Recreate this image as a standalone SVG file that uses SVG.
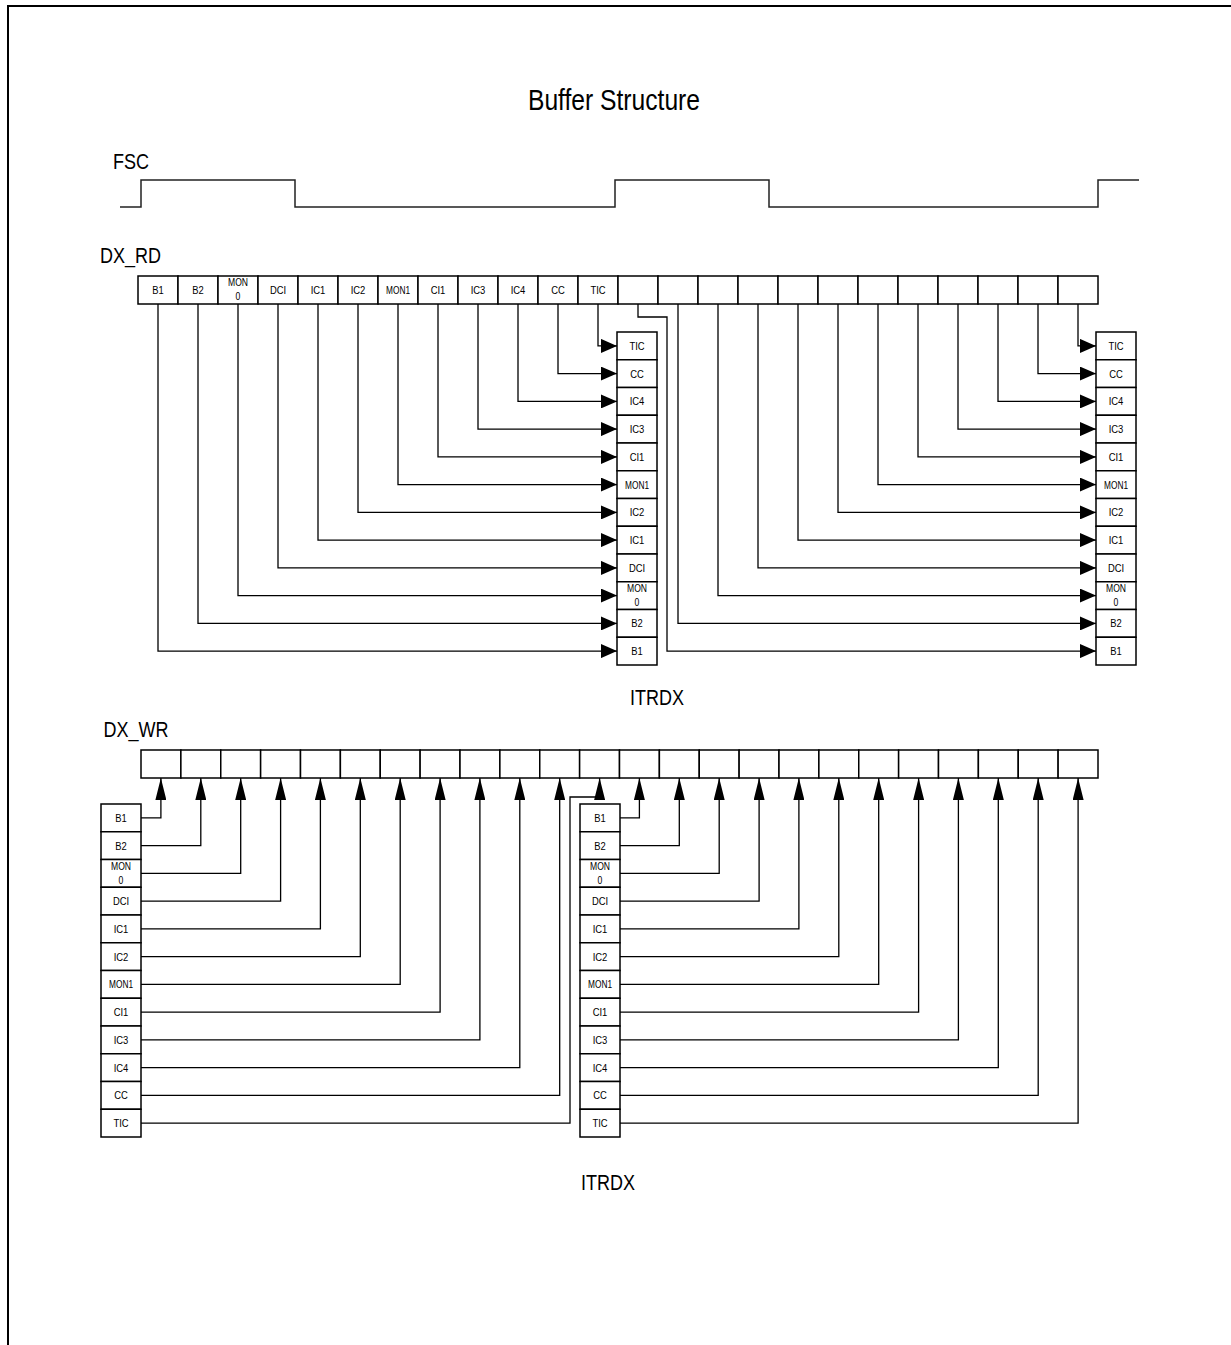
<svg xmlns="http://www.w3.org/2000/svg" width="1231" height="1345" viewBox="0 0 1231 1345">
<defs>
<style>
.t{font-family:"Liberation Sans",Arial,sans-serif;fill:#000}
.big{font-size:22px}
.title{font-size:30px}
.lb{font-size:11.5px;text-anchor:middle}
.sm{font-size:10.5px;text-anchor:middle}
.box{fill:#fff;stroke:#000;stroke-width:1.5}
.cn{fill:none;stroke:#000;stroke-width:1.3}
.ar{marker-end:url(#ah)}
.au{marker-end:url(#ahu)}
</style>
<marker id="ah" markerUnits="userSpaceOnUse" markerWidth="16" markerHeight="14" viewBox="0 0 16 14" refX="16" refY="7" orient="auto"><path d="M0,0 L16,7 L0,14 z" fill="#000"/></marker>
<marker id="ahu" markerUnits="userSpaceOnUse" markerWidth="22" markerHeight="11" viewBox="0 0 22 11" refX="22" refY="5.5" orient="auto"><path d="M0,0 L22,5.5 L0,11 z" fill="#000"/></marker>
</defs>
<rect x="0" y="0" width="1231" height="1345" fill="#fff"/>
<path d="M8,1345 V6 H1231" fill="none" stroke="#000" stroke-width="2"/>
<text class="t title" x="614" y="110" text-anchor="middle" textLength="172" lengthAdjust="spacingAndGlyphs">Buffer Structure</text>
<g id="fsc">
<text class="t big" x="113" y="169" textLength="36" lengthAdjust="spacingAndGlyphs">FSC</text>
<path d="M120,207 H141 V180 H295 V207 H615 V180 H769 V207 H1098 V180 H1139" fill="none" stroke="#222" stroke-width="1.5"/>
</g>
<text class="t big" x="100" y="263" textLength="61" lengthAdjust="spacingAndGlyphs">DX_RD</text>
<text class="t big" x="103.5" y="737" textLength="65" lengthAdjust="spacingAndGlyphs">DX_WR</text>
<text class="t big" x="657" y="705" text-anchor="middle" textLength="54" lengthAdjust="spacingAndGlyphs">ITRDX</text>
<text class="t big" x="608" y="1190" text-anchor="middle" textLength="54" lengthAdjust="spacingAndGlyphs">ITRDX</text>

<g id="connectors">
<path class="cn ar" d="M158,304 V651.1 H617"/>
<path class="cn ar" d="M198,304 V623.4 H617"/>
<path class="cn ar" d="M238,304 V595.6 H617"/>
<path class="cn ar" d="M278,304 V567.9 H617"/>
<path class="cn ar" d="M318,304 V540.1 H617"/>
<path class="cn ar" d="M358,304 V512.4 H617"/>
<path class="cn ar" d="M398,304 V484.6 H617"/>
<path class="cn ar" d="M438,304 V456.9 H617"/>
<path class="cn ar" d="M478,304 V429.1 H617"/>
<path class="cn ar" d="M518,304 V401.4 H617"/>
<path class="cn ar" d="M558,304 V373.6 H617"/>
<path class="cn ar" d="M598,304 V345.9 H617"/>
<path class="cn ar" d="M638,304 V317 H667 V651.1 H1096"/>
<path class="cn ar" d="M678,304 V623.4 H1096"/>
<path class="cn ar" d="M718,304 V595.6 H1096"/>
<path class="cn ar" d="M758,304 V567.9 H1096"/>
<path class="cn ar" d="M798,304 V540.1 H1096"/>
<path class="cn ar" d="M838,304 V512.4 H1096"/>
<path class="cn ar" d="M878,304 V484.6 H1096"/>
<path class="cn ar" d="M918,304 V456.9 H1096"/>
<path class="cn ar" d="M958,304 V429.1 H1096"/>
<path class="cn ar" d="M998,304 V401.4 H1096"/>
<path class="cn ar" d="M1038,304 V373.6 H1096"/>
<path class="cn ar" d="M1078,304 V345.9 H1096"/>

<path class="cn au" d="M141,817.9 H160.9 V778"/>
<path class="cn au" d="M141,845.6 H200.8 V778"/>
<path class="cn au" d="M141,873.4 H240.7 V778"/>
<path class="cn au" d="M141,901.1 H280.6 V778"/>
<path class="cn au" d="M141,928.9 H320.4 V778"/>
<path class="cn au" d="M141,956.6 H360.3 V778"/>
<path class="cn au" d="M141,984.4 H400.2 V778"/>
<path class="cn au" d="M141,1012.1 H440.1 V778"/>
<path class="cn au" d="M141,1039.9 H479.9 V778"/>
<path class="cn au" d="M141,1067.6 H519.8 V778"/>
<path class="cn au" d="M141,1095.4 H559.7 V778"/>
<path class="cn au" d="M141,1123.1 H570 V797 H599.6 V778"/>
<path class="cn au" d="M620,817.9 H639.4 V778"/>
<path class="cn au" d="M620,845.6 H679.3 V778"/>
<path class="cn au" d="M620,873.4 H719.2 V778"/>
<path class="cn au" d="M620,901.1 H759.1 V778"/>
<path class="cn au" d="M620,928.9 H798.9 V778"/>
<path class="cn au" d="M620,956.6 H838.8 V778"/>
<path class="cn au" d="M620,984.4 H878.7 V778"/>
<path class="cn au" d="M620,1012.1 H918.6 V778"/>
<path class="cn au" d="M620,1039.9 H958.4 V778"/>
<path class="cn au" d="M620,1067.6 H998.3 V778"/>
<path class="cn au" d="M620,1095.4 H1038.2 V778"/>
<path class="cn au" d="M620,1123.1 H1078.1 V778"/>
</g>

<g id="dx-rd-buffer">
<rect class="box" x="138" y="276" width="40" height="28"/>
<rect class="box" x="178" y="276" width="40" height="28"/>
<rect class="box" x="218" y="276" width="40" height="28"/>
<rect class="box" x="258" y="276" width="40" height="28"/>
<rect class="box" x="298" y="276" width="40" height="28"/>
<rect class="box" x="338" y="276" width="40" height="28"/>
<rect class="box" x="378" y="276" width="40" height="28"/>
<rect class="box" x="418" y="276" width="40" height="28"/>
<rect class="box" x="458" y="276" width="40" height="28"/>
<rect class="box" x="498" y="276" width="40" height="28"/>
<rect class="box" x="538" y="276" width="40" height="28"/>
<rect class="box" x="578" y="276" width="40" height="28"/>
<rect class="box" x="618" y="276" width="40" height="28"/>
<rect class="box" x="658" y="276" width="40" height="28"/>
<rect class="box" x="698" y="276" width="40" height="28"/>
<rect class="box" x="738" y="276" width="40" height="28"/>
<rect class="box" x="778" y="276" width="40" height="28"/>
<rect class="box" x="818" y="276" width="40" height="28"/>
<rect class="box" x="858" y="276" width="40" height="28"/>
<rect class="box" x="898" y="276" width="40" height="28"/>
<rect class="box" x="938" y="276" width="40" height="28"/>
<rect class="box" x="978" y="276" width="40" height="28"/>
<rect class="box" x="1018" y="276" width="40" height="28"/>
<rect class="box" x="1058" y="276" width="40" height="28"/>
<text class="t lb" x="158" y="294" textLength="11.5" lengthAdjust="spacingAndGlyphs">B1</text>
<text class="t lb" x="198" y="294" textLength="11.5" lengthAdjust="spacingAndGlyphs">B2</text>
<text class="t sm" x="238" y="286" textLength="20" lengthAdjust="spacingAndGlyphs">MON</text>
<text class="t sm" x="238" y="300" textLength="4.8" lengthAdjust="spacingAndGlyphs">0</text>
<text class="t lb" x="278" y="294" textLength="16.2" lengthAdjust="spacingAndGlyphs">DCI</text>
<text class="t lb" x="318" y="294" textLength="14.7" lengthAdjust="spacingAndGlyphs">IC1</text>
<text class="t lb" x="358" y="294" textLength="14.7" lengthAdjust="spacingAndGlyphs">IC2</text>
<text class="t sm" x="398" y="294" textLength="24" lengthAdjust="spacingAndGlyphs">MON1</text>
<text class="t lb" x="438" y="294" textLength="14.7" lengthAdjust="spacingAndGlyphs">CI1</text>
<text class="t lb" x="478" y="294" textLength="14.7" lengthAdjust="spacingAndGlyphs">IC3</text>
<text class="t lb" x="518" y="294" textLength="14.7" lengthAdjust="spacingAndGlyphs">IC4</text>
<text class="t lb" x="558" y="294" textLength="13.6" lengthAdjust="spacingAndGlyphs">CC</text>
<text class="t lb" x="598" y="294" textLength="15.2" lengthAdjust="spacingAndGlyphs">TIC</text>
</g>

<g id="itrdx-rd-left">
<rect class="box" x="617" y="332" width="40" height="27.75"/>
<rect class="box" x="617" y="359.75" width="40" height="27.75"/>
<rect class="box" x="617" y="387.5" width="40" height="27.75"/>
<rect class="box" x="617" y="415.25" width="40" height="27.75"/>
<rect class="box" x="617" y="443" width="40" height="27.75"/>
<rect class="box" x="617" y="470.75" width="40" height="27.75"/>
<rect class="box" x="617" y="498.5" width="40" height="27.75"/>
<rect class="box" x="617" y="526.25" width="40" height="27.75"/>
<rect class="box" x="617" y="554" width="40" height="27.75"/>
<rect class="box" x="617" y="581.75" width="40" height="27.75"/>
<rect class="box" x="617" y="609.5" width="40" height="27.75"/>
<rect class="box" x="617" y="637.25" width="40" height="27.75"/>
<text class="t lb" x="637" y="349.9" textLength="15.2" lengthAdjust="spacingAndGlyphs">TIC</text>
<text class="t lb" x="637" y="377.6" textLength="13.6" lengthAdjust="spacingAndGlyphs">CC</text>
<text class="t lb" x="637" y="405.4" textLength="14.7" lengthAdjust="spacingAndGlyphs">IC4</text>
<text class="t lb" x="637" y="433.1" textLength="14.7" lengthAdjust="spacingAndGlyphs">IC3</text>
<text class="t lb" x="637" y="460.9" textLength="14.7" lengthAdjust="spacingAndGlyphs">CI1</text>
<text class="t sm" x="637" y="488.6" textLength="24" lengthAdjust="spacingAndGlyphs">MON1</text>
<text class="t lb" x="637" y="516.4" textLength="14.7" lengthAdjust="spacingAndGlyphs">IC2</text>
<text class="t lb" x="637" y="544.1" textLength="14.7" lengthAdjust="spacingAndGlyphs">IC1</text>
<text class="t lb" x="637" y="571.9" textLength="16.2" lengthAdjust="spacingAndGlyphs">DCI</text>
<text class="t sm" x="637" y="591.75" textLength="20" lengthAdjust="spacingAndGlyphs">MON</text>
<text class="t sm" x="637" y="605.75" textLength="4.8" lengthAdjust="spacingAndGlyphs">0</text>
<text class="t lb" x="637" y="627.4" textLength="11.5" lengthAdjust="spacingAndGlyphs">B2</text>
<text class="t lb" x="637" y="655.1" textLength="11.5" lengthAdjust="spacingAndGlyphs">B1</text>
</g>

<g id="itrdx-rd-right">
<rect class="box" x="1096" y="332" width="40" height="27.75"/>
<rect class="box" x="1096" y="359.75" width="40" height="27.75"/>
<rect class="box" x="1096" y="387.5" width="40" height="27.75"/>
<rect class="box" x="1096" y="415.25" width="40" height="27.75"/>
<rect class="box" x="1096" y="443" width="40" height="27.75"/>
<rect class="box" x="1096" y="470.75" width="40" height="27.75"/>
<rect class="box" x="1096" y="498.5" width="40" height="27.75"/>
<rect class="box" x="1096" y="526.25" width="40" height="27.75"/>
<rect class="box" x="1096" y="554" width="40" height="27.75"/>
<rect class="box" x="1096" y="581.75" width="40" height="27.75"/>
<rect class="box" x="1096" y="609.5" width="40" height="27.75"/>
<rect class="box" x="1096" y="637.25" width="40" height="27.75"/>
<text class="t lb" x="1116" y="349.9" textLength="15.2" lengthAdjust="spacingAndGlyphs">TIC</text>
<text class="t lb" x="1116" y="377.6" textLength="13.6" lengthAdjust="spacingAndGlyphs">CC</text>
<text class="t lb" x="1116" y="405.4" textLength="14.7" lengthAdjust="spacingAndGlyphs">IC4</text>
<text class="t lb" x="1116" y="433.1" textLength="14.7" lengthAdjust="spacingAndGlyphs">IC3</text>
<text class="t lb" x="1116" y="460.9" textLength="14.7" lengthAdjust="spacingAndGlyphs">CI1</text>
<text class="t sm" x="1116" y="488.6" textLength="24" lengthAdjust="spacingAndGlyphs">MON1</text>
<text class="t lb" x="1116" y="516.4" textLength="14.7" lengthAdjust="spacingAndGlyphs">IC2</text>
<text class="t lb" x="1116" y="544.1" textLength="14.7" lengthAdjust="spacingAndGlyphs">IC1</text>
<text class="t lb" x="1116" y="571.9" textLength="16.2" lengthAdjust="spacingAndGlyphs">DCI</text>
<text class="t sm" x="1116" y="591.75" textLength="20" lengthAdjust="spacingAndGlyphs">MON</text>
<text class="t sm" x="1116" y="605.75" textLength="4.8" lengthAdjust="spacingAndGlyphs">0</text>
<text class="t lb" x="1116" y="627.4" textLength="11.5" lengthAdjust="spacingAndGlyphs">B2</text>
<text class="t lb" x="1116" y="655.1" textLength="11.5" lengthAdjust="spacingAndGlyphs">B1</text>
</g>

<g id="dx-wr-buffer">
<rect class="box" x="141" y="750" width="39.875" height="28"/>
<rect class="box" x="180.875" y="750" width="39.875" height="28"/>
<rect class="box" x="220.75" y="750" width="39.875" height="28"/>
<rect class="box" x="260.625" y="750" width="39.875" height="28"/>
<rect class="box" x="300.5" y="750" width="39.875" height="28"/>
<rect class="box" x="340.375" y="750" width="39.875" height="28"/>
<rect class="box" x="380.25" y="750" width="39.875" height="28"/>
<rect class="box" x="420.125" y="750" width="39.875" height="28"/>
<rect class="box" x="460" y="750" width="39.875" height="28"/>
<rect class="box" x="499.875" y="750" width="39.875" height="28"/>
<rect class="box" x="539.75" y="750" width="39.875" height="28"/>
<rect class="box" x="579.625" y="750" width="39.875" height="28"/>
<rect class="box" x="619.5" y="750" width="39.875" height="28"/>
<rect class="box" x="659.375" y="750" width="39.875" height="28"/>
<rect class="box" x="699.25" y="750" width="39.875" height="28"/>
<rect class="box" x="739.125" y="750" width="39.875" height="28"/>
<rect class="box" x="779" y="750" width="39.875" height="28"/>
<rect class="box" x="818.875" y="750" width="39.875" height="28"/>
<rect class="box" x="858.75" y="750" width="39.875" height="28"/>
<rect class="box" x="898.625" y="750" width="39.875" height="28"/>
<rect class="box" x="938.5" y="750" width="39.875" height="28"/>
<rect class="box" x="978.375" y="750" width="39.875" height="28"/>
<rect class="box" x="1018.25" y="750" width="39.875" height="28"/>
<rect class="box" x="1058.125" y="750" width="39.875" height="28"/>
</g>

<g id="itrdx-wr-left">
<rect class="box" x="101" y="804" width="40" height="27.75"/>
<rect class="box" x="101" y="831.75" width="40" height="27.75"/>
<rect class="box" x="101" y="859.5" width="40" height="27.75"/>
<rect class="box" x="101" y="887.25" width="40" height="27.75"/>
<rect class="box" x="101" y="915" width="40" height="27.75"/>
<rect class="box" x="101" y="942.75" width="40" height="27.75"/>
<rect class="box" x="101" y="970.5" width="40" height="27.75"/>
<rect class="box" x="101" y="998.25" width="40" height="27.75"/>
<rect class="box" x="101" y="1026" width="40" height="27.75"/>
<rect class="box" x="101" y="1053.75" width="40" height="27.75"/>
<rect class="box" x="101" y="1081.5" width="40" height="27.75"/>
<rect class="box" x="101" y="1109.25" width="40" height="27.75"/>
<text class="t lb" x="121" y="821.9" textLength="11.5" lengthAdjust="spacingAndGlyphs">B1</text>
<text class="t lb" x="121" y="849.6" textLength="11.5" lengthAdjust="spacingAndGlyphs">B2</text>
<text class="t sm" x="121" y="869.5" textLength="20" lengthAdjust="spacingAndGlyphs">MON</text>
<text class="t sm" x="121" y="883.5" textLength="4.8" lengthAdjust="spacingAndGlyphs">0</text>
<text class="t lb" x="121" y="905.1" textLength="16.2" lengthAdjust="spacingAndGlyphs">DCI</text>
<text class="t lb" x="121" y="932.9" textLength="14.7" lengthAdjust="spacingAndGlyphs">IC1</text>
<text class="t lb" x="121" y="960.6" textLength="14.7" lengthAdjust="spacingAndGlyphs">IC2</text>
<text class="t sm" x="121" y="988.4" textLength="24" lengthAdjust="spacingAndGlyphs">MON1</text>
<text class="t lb" x="121" y="1016.1" textLength="14.7" lengthAdjust="spacingAndGlyphs">CI1</text>
<text class="t lb" x="121" y="1043.9" textLength="14.7" lengthAdjust="spacingAndGlyphs">IC3</text>
<text class="t lb" x="121" y="1071.6" textLength="14.7" lengthAdjust="spacingAndGlyphs">IC4</text>
<text class="t lb" x="121" y="1099.4" textLength="13.6" lengthAdjust="spacingAndGlyphs">CC</text>
<text class="t lb" x="121" y="1127.1" textLength="15.2" lengthAdjust="spacingAndGlyphs">TIC</text>
</g>

<g id="itrdx-wr-right">
<rect class="box" x="580" y="804" width="40" height="27.75"/>
<rect class="box" x="580" y="831.75" width="40" height="27.75"/>
<rect class="box" x="580" y="859.5" width="40" height="27.75"/>
<rect class="box" x="580" y="887.25" width="40" height="27.75"/>
<rect class="box" x="580" y="915" width="40" height="27.75"/>
<rect class="box" x="580" y="942.75" width="40" height="27.75"/>
<rect class="box" x="580" y="970.5" width="40" height="27.75"/>
<rect class="box" x="580" y="998.25" width="40" height="27.75"/>
<rect class="box" x="580" y="1026" width="40" height="27.75"/>
<rect class="box" x="580" y="1053.75" width="40" height="27.75"/>
<rect class="box" x="580" y="1081.5" width="40" height="27.75"/>
<rect class="box" x="580" y="1109.25" width="40" height="27.75"/>
<text class="t lb" x="600" y="821.9" textLength="11.5" lengthAdjust="spacingAndGlyphs">B1</text>
<text class="t lb" x="600" y="849.6" textLength="11.5" lengthAdjust="spacingAndGlyphs">B2</text>
<text class="t sm" x="600" y="869.5" textLength="20" lengthAdjust="spacingAndGlyphs">MON</text>
<text class="t sm" x="600" y="883.5" textLength="4.8" lengthAdjust="spacingAndGlyphs">0</text>
<text class="t lb" x="600" y="905.1" textLength="16.2" lengthAdjust="spacingAndGlyphs">DCI</text>
<text class="t lb" x="600" y="932.9" textLength="14.7" lengthAdjust="spacingAndGlyphs">IC1</text>
<text class="t lb" x="600" y="960.6" textLength="14.7" lengthAdjust="spacingAndGlyphs">IC2</text>
<text class="t sm" x="600" y="988.4" textLength="24" lengthAdjust="spacingAndGlyphs">MON1</text>
<text class="t lb" x="600" y="1016.1" textLength="14.7" lengthAdjust="spacingAndGlyphs">CI1</text>
<text class="t lb" x="600" y="1043.9" textLength="14.7" lengthAdjust="spacingAndGlyphs">IC3</text>
<text class="t lb" x="600" y="1071.6" textLength="14.7" lengthAdjust="spacingAndGlyphs">IC4</text>
<text class="t lb" x="600" y="1099.4" textLength="13.6" lengthAdjust="spacingAndGlyphs">CC</text>
<text class="t lb" x="600" y="1127.1" textLength="15.2" lengthAdjust="spacingAndGlyphs">TIC</text>
</g>
</svg>
